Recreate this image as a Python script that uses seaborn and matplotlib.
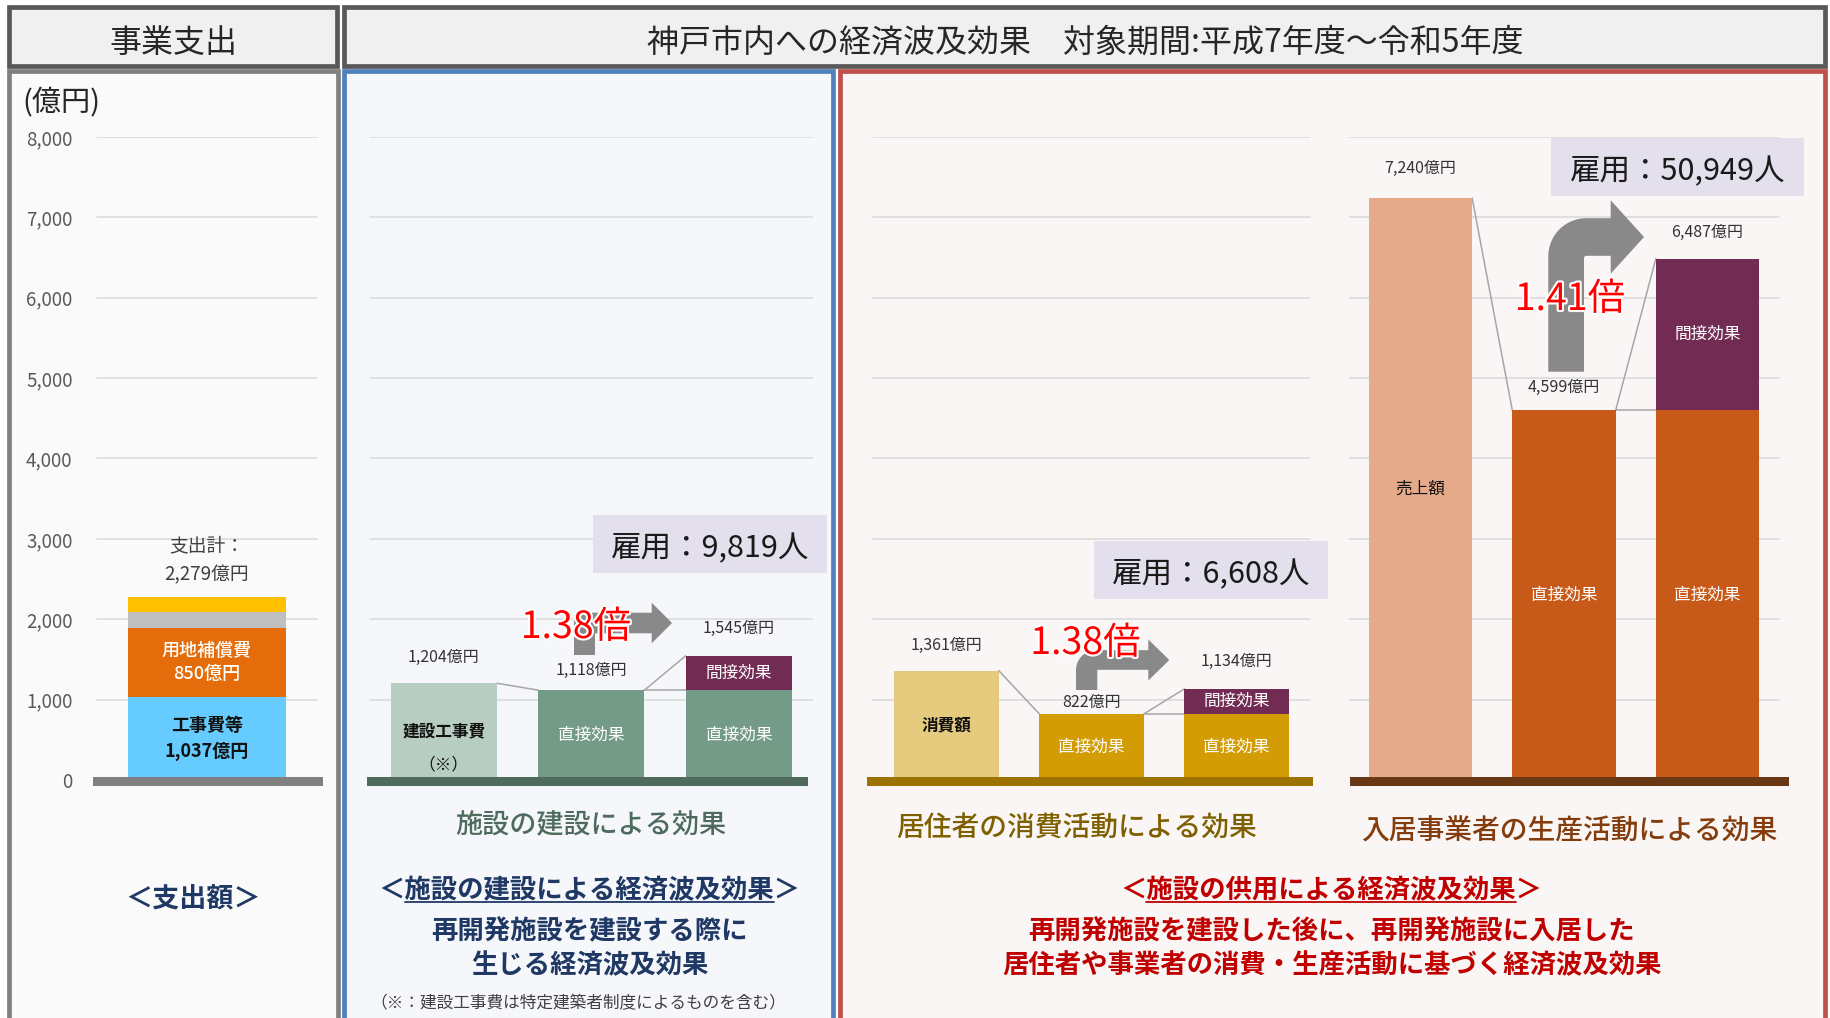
import numpy as np
import matplotlib
matplotlib.use("Agg")
import matplotlib.pyplot as plt
from matplotlib.patches import Rectangle, Polygon
import matplotlib.patheffects as pe
import seaborn as sns

# ---------------- data ----------------
spend_items = ["工事費等", "用地補償費", "その他①", "その他②"]
spend_values = [1037, 850, 200, 192]
spend_colors = ["#66ccff", "#e46c0a", "#bfbfbf", "#ffc000"]

build_cats = ["建設工事費", "直接効果", "総効果"]
build_values = [1204, 1118, 1545]

consume_cats = ["消費額", "直接効果", "総効果"]
consume_values = [1361, 822, 1134]

produce_cats = ["売上額", "直接効果", "総効果"]
produce_values = [7240, 4599, 6487]

employment = [9819, 6608, 50949]

y_ticks = [0, 1000, 2000, 3000, 4000, 5000, 6000, 7000, 8000]

# ---------------- style ----------------
sns.set_style("white")
plt.rcParams["font.family"] = ["Noto Sans CJK JP", "DejaVu Sans"]

W, H = 1831, 1018
ZERO_PX = 780.0
PX_PER_UNIT = 643.0 / 8000
Y_MIN, Y_MAX = -100, 8000
DY = 3.5  # vertical nudge for centred CJK text

GRID = "#d9d9d9"
LINK = "#a6a6a6"
INDIRECT = "#722b53"
ARROW = "#898989"
BAR_W = 0.72

fig = plt.figure(figsize=(W / 100, H / 100), dpi=100)
fig.patch.set_facecolor("white")


def add_px_axes(x0, y0, x1, y1, z):
    return fig.add_axes([x0 / W, 1 - y1 / H, (x1 - x0) / W, (y1 - y0) / H], zorder=z)


def val_to_px(v):
    return ZERO_PX - v * PX_PER_UNIT


def overlay(z):
    ax = add_px_axes(0, 0, W, H, z)
    ax.set_xlim(0, W)
    ax.set_ylim(H, 0)
    ax.axis("off")
    ax.patch.set_visible(False)
    return ax


bg = overlay(0)
fg = overlay(3)

# ---------------- frames ----------------
def frame(ax, x0, y0, x1, y1, fc, ec, lw=3.4):
    ax.add_patch(Rectangle((x0, y0), x1 - x0, y1 - y0, facecolor=fc,
                           edgecolor=ec, linewidth=lw, joinstyle="miter"))

frame(bg, 9.5, 7, 337, 65.5, "#f0f0f0", "#595959")
frame(bg, 344, 7, 1825.5, 65.5, "#f0f0f0", "#595959")
frame(bg, 9.5, 71, 338, H + 20, "#fafafa", "#808080")
frame(bg, 344, 71, 833, H + 20, "#f5f7fb", "#4f81bd")
frame(bg, 840, 71, 1825.5, H + 20, "#f9f6f5", "#c0504d")

bg.text(173, 39 + DY, "事業支出", ha="center", va="center", fontsize=23, color="#262626")
bg.text(1085, 39 + DY, "神戸市内への経済波及効果　対象期間:平成7年度～令和5年度",
        ha="center", va="center", fontsize=23, color="#262626")
bg.text(22, 100 + DY, "(億円)", ha="left", va="center", fontsize=21, color="#262626")


def chart_axes(x0, x1, xlim):
    ax = add_px_axes(x0, val_to_px(Y_MAX), x1, val_to_px(Y_MIN), 2)
    ax.patch.set_visible(False)
    for s in ax.spines.values():
        s.set_visible(False)
    ax._xlim_target = xlim
    return ax


def finish(ax):
    ax.set_xlim(*ax._xlim_target)
    ax.set_ylim(Y_MIN, Y_MAX)
    ax.set_xticks([])
    ax.set(xlabel="", ylabel="")
    ax.grid(False)


def gridlines(ax, span, floor_span, floor_color):
    for v in y_ticks[1:]:
        ax.axhline(v, span[0], span[1], color=GRID, lw=1.1, zorder=0)
    ax.axhspan(-70, 35, floor_span[0], floor_span[1], color=floor_color, lw=0, zorder=4)


# ---------------- spending chart ----------------
ax0 = chart_axes(92.7, 323.3, (-0.723, 0.736))
gridlines(ax0, (0.017, 0.971), (0, 1), "#808080")
cum = np.cumsum(spend_values)
for i in reversed(range(len(spend_values))):
    sns.barplot(x=["支出額"], y=[cum[i]], color=spend_colors[i], width=1.0,
                saturation=1, errorbar=None, linewidth=0, ax=ax0, zorder=2)
finish(ax0)
ax0.set_yticks(y_ticks)
ax0.set_yticklabels([f"{v:,}" for v in y_ticks])
ax0.tick_params(axis="y", length=0, pad=14.5, labelsize=13.5, labelcolor="#595959")
ax0.text(0, spend_values[0] / 2, f"{spend_items[0]}\n{spend_values[0]:,}億円",
         ha="center", va="center", fontsize=13, fontweight="bold",
         color="#111111", linespacing=1.4, zorder=5)
ax0.text(0, spend_values[0] + spend_values[1] / 2,
         f"{spend_items[1]}\n{spend_values[1]:,}億円",
         ha="center", va="center", fontsize=13, fontweight="medium",
         color="white", linespacing=1.4, zorder=5)
ax0.annotate(f"支出計：\n{cum[-1]:,}億円", (0, cum[-1]), xytext=(0, 37),
             textcoords="offset pixels", ha="center", va="center",
             fontsize=13.5, color="#404040", linespacing=1.5)


# ---------------- effect charts ----------------
def effect_chart(x0, x1, xlim, cats, values, colors, span, floor_span,
                 floor_color, offsets, first_label, first_bold):
    ax = chart_axes(x0, x1, xlim)
    base, direct, total = values
    gridlines(ax, span, floor_span, floor_color)
    sns.barplot(x=cats, y=[base, direct, total], hue=cats, order=cats,
                hue_order=cats,
                palette=dict(zip(cats, [colors[0], colors[1], INDIRECT])),
                width=BAR_W, saturation=1, legend=False, errorbar=None,
                linewidth=0, ax=ax, zorder=2)
    sns.barplot(x=[cats[2]], y=[direct], order=cats, color=colors[1],
                width=BAR_W, saturation=1, errorbar=None, linewidth=0,
                ax=ax, zorder=2)
    hw = BAR_W / 2
    ax.plot([0 + hw, 1 - hw], [base, direct], color=LINK, lw=1.1, zorder=1)
    ax.plot([1 + hw, 2 - hw], [direct, total], color=LINK, lw=1.1, zorder=1)
    ax.plot([1 + hw, 2 - hw], [direct, direct], color=LINK, lw=1.1, zorder=1)
    for i, (v, off) in enumerate(zip(values, offsets)):
        ax.annotate(f"{v:,}億円", (i, v), xytext=(0, off), textcoords="offset pixels",
                    ha="center", va="center", fontsize=11.5, color="#333333")
    ax.text(0, base / 2, first_label, ha="center", va="center", fontsize=12,
            color="#111111", fontweight="bold" if first_bold else "normal", zorder=5)
    ax.text(1, direct / 2, "直接効果", ha="center", va="center", fontsize=12,
            color="white", zorder=5)
    ax.text(2, direct / 2, "直接効果", ha="center", va="center", fontsize=12,
            color="white", zorder=5)
    ax.text(2, (direct + total) / 2, "間接効果", ha="center", va="center",
            fontsize=12, color="white", zorder=5)
    finish(ax)
    ax.set_yticks([])
    return ax


ax1 = effect_chart(366.7, 813.3, (-0.5227, 2.505), build_cats, build_values,
                   ["#b8cdc1", "#739b87"], (0.007, 1.0), (0, 0.989), "#4f6b5d",
                   [26, 20, 27], "建設工事費", True)
ax1.annotate("（※）", (0, 0), xytext=(0, 15), textcoords="offset pixels",
             ha="center", va="center", fontsize=12, color="#111111", zorder=5)

ax2 = effect_chart(866.7, 1312.7, (-0.55, 2.524), consume_cats, consume_values,
                   ["#e6cb7e", "#d39c05"], (0.015, 0.994), (0, 1), "#9c7200",
                   [25, 11, 27], "消費額", True)

ax3 = effect_chart(1349.3, 1789.3, (-0.496, 2.570), produce_cats, produce_values,
                   ["#e5aa8a", "#c85a19"], (0, 0.977), (0.002, 1), "#6a3814",
                   [30, 23, 26], "売上額", False)


# ---------------- bent arrows, ratios and employment boxes ----------------
def bent_arrow(ax, a, w, yb, yc, h, R, hb, tip, Hh):
    pts = [(a, yb), (a, yc - h + R)]
    cx, cy = a + R, yc - h + R
    for t in np.linspace(np.pi, 1.5 * np.pi, 24):
        pts.append((cx + R * np.cos(t), cy + R * np.sin(t)))
    pts += [(hb, yc - h), (hb, yc - Hh), (tip, yc), (hb, yc + Hh), (hb, yc + h)]
    r_in = max(R - w, 0)
    if r_in > 0:
        cx, cy = a + w + r_in, yc + h + r_in
        for t in np.linspace(1.5 * np.pi, np.pi, 12):
            pts.append((cx + r_in * np.cos(t), cy + r_in * np.sin(t)))
    else:
        pts.append((a + w, yc + h))
    pts.append((a + w, yb))
    ax.add_patch(Polygon(pts, closed=True, facecolor=ARROW, edgecolor="none", zorder=1))


bent_arrow(fg, 574, 21, 655, 623, 10.3, 6, 651.7, 672, 20.3)
bent_arrow(fg, 1076, 21.3, 690, 660, 9.8, 20, 1148.3, 1169.3, 20.5)
bent_arrow(fg, 1548.3, 35.7, 371.7, 237, 18.8, 38, 1610.7, 1644, 36.7)

ratio_pos = [(576, 623), (1085.5, 639), (1570, 295)]
for vals, (px, py) in zip([build_values, consume_values, produce_values], ratio_pos):
    ratio = vals[2] / vals[1]
    fg.text(px, py + DY + 1, f"{ratio:.2f}倍", ha="center", va="center", fontsize=27,
            color="#ff0000", zorder=3,
            path_effects=[pe.withStroke(linewidth=3, foreground="white")])

job_boxes = [(593.3, 515, 826.7, 573.3), (1094, 541, 1327.7, 599),
             (1551, 138.3, 1804, 195.7)]
for n, (x0, y0, x1, y1) in zip(employment, job_boxes):
    fg.add_patch(Rectangle((x0, y0), x1 - x0, y1 - y0, facecolor="#e4dfec",
                           edgecolor="none", zorder=2))
    fg.text((x0 + x1) / 2, (y0 + y1) / 2 + 1 + DY, f"雇用：{n:,}人", ha="center",
            va="center", fontsize=22, color="#1a1a1a", zorder=3)

# ---------------- captions ----------------
fg.text(591, 822 + DY, "施設の建設による効果", ha="center", va="center",
        fontsize=19.5, fontweight="medium", color="#4f6b5d")
fg.text(1077, 825 + DY, "居住者の消費活動による効果", ha="center", va="center",
        fontsize=20, fontweight="medium", color="#7f6000")
fg.text(1569, 827 + DY, "入居事業者の生産活動による効果", ha="center", va="center",
        fontsize=20, fontweight="medium", color="#843c0c")

NAVY = "#1f3864"
RED = "#c00000"
fg.text(193, 896 + DY, "＜支出額＞", ha="center", va="center", fontsize=19.5,
        fontweight="bold", color=NAVY)

HEAD_Y = 887.5 + DY
t_blue = fg.text(589.5, HEAD_Y, "＜施設の建設による経済波及効果＞", ha="center",
                 va="center", fontsize=19, fontweight="bold", color=NAVY)
fg.text(589.5, 928.5 + DY, "再開発施設を建設する際に", ha="center", va="center",
        fontsize=19, fontweight="bold", color=NAVY)
fg.text(589.5, 962 + DY, "生じる経済波及効果", ha="center", va="center",
        fontsize=19, fontweight="bold", color=NAVY)
fg.text(578, 1001 + DY - 1, "（※：建設工事費は特定建築者制度によるものを含む）",
        ha="center", va="center", fontsize=12, color="#404040")

t_red = fg.text(1331, HEAD_Y, "＜施設の供用による経済波及効果＞", ha="center",
                va="center", fontsize=19, fontweight="bold", color=RED)
fg.text(1332, 928.5 + DY, "再開発施設を建設した後に、再開発施設に入居した", ha="center",
        va="center", fontsize=19, fontweight="bold", color=RED)
fg.text(1332, 962 + DY, "居住者や事業者の消費・生産活動に基づく経済波及効果", ha="center",
        va="center", fontsize=19, fontweight="bold", color=RED)

# underline the bracketed headings (excluding the brackets)
fig.canvas.draw()
renderer = fig.canvas.get_renderer()
inv = fg.transData.inverted()
for t, col in [(t_blue, NAVY), (t_red, RED)]:
    bb = t.get_window_extent(renderer)
    (xa, _), (xb, _) = inv.transform([(bb.x0, bb.y0), (bb.x1, bb.y0)])
    em = t.get_fontsize() * 100 / 72
    fg.plot([xa + em, xb - em], [887.5 + 0.52 * em + 1] * 2, color=col, lw=1.3)

fig.savefig("out.png", dpi=100, facecolor="white")
